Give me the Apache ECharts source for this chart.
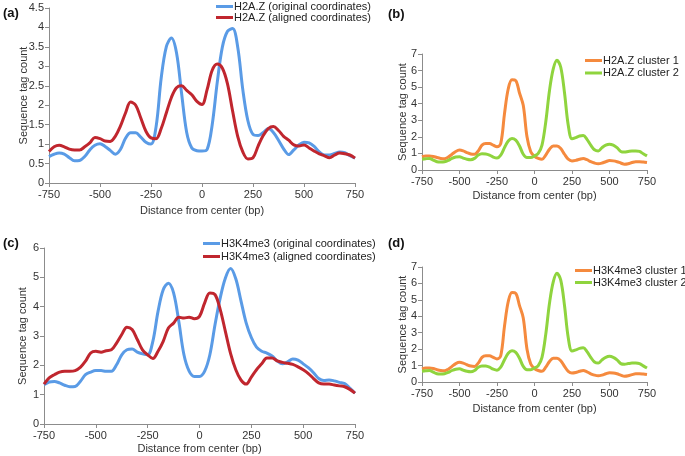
<!DOCTYPE html>
<html><head><meta charset="utf-8">
<script src="https://cdn.jsdelivr.net/npm/echarts@6/dist/echarts.min.js"></script>
<style>html,body{margin:0;padding:0;background:#fff}#c{width:685px;height:456px}</style>
</head><body><div id="c"></div>
<script>
// Distance from center (bp)
const distance = [-750,-725,-700,-675,-650,-625,-600,-575,-550,-525,-500,-475,-450,-425,-400,-375,-350,-325,-300,-275,-250,-225,-200,-175,-150,-125,-100,-75,-50,-25,0,25,50,75,100,125,150,175,200,225,250,275,300,325,350,375,400,425,450,475,500,525,550,575,600,625,650,675,700,725,750];

// (a) H2A.Z
const h2azOriginal = [0.68,0.74,0.77,0.74,0.65,0.57,0.58,0.68,0.85,0.97,1.01,0.94,0.84,0.74,0.86,1.15,1.29,1.29,1.18,1.05,1.0,1.45,2.7,3.5,3.73,3.35,2.3,1.3,0.9,0.83,0.82,0.86,1.5,2.6,3.5,3.9,3.97,3.5,2.4,1.6,1.25,1.22,1.3,1.4,1.3,1.1,0.88,0.73,0.85,0.98,1.05,1.03,0.94,0.8,0.72,0.72,0.76,0.8,0.78,0.7,0.64];
const h2azAligned = [0.81,0.93,0.97,0.93,0.87,0.85,0.85,0.93,1.03,1.17,1.14,1.08,1.07,1.2,1.46,1.8,2.08,2.0,1.67,1.33,1.16,1.14,1.4,1.8,2.2,2.45,2.5,2.38,2.27,2.1,2.02,2.4,2.9,3.06,2.95,2.55,1.85,1.2,0.8,0.62,0.65,0.95,1.22,1.4,1.45,1.35,1.2,1.1,0.98,0.95,0.98,0.9,0.82,0.75,0.7,0.65,0.72,0.77,0.75,0.72,0.64];

// (b) H2A.Z clusters
const h2azCluster1 = [0.8,0.85,0.85,0.82,0.75,0.7,0.68,0.78,0.95,1.12,1.2,1.15,1.05,0.97,0.95,1.15,1.5,1.6,1.6,1.5,1.4,1.6,3.4,4.9,5.45,5.4,4.65,3.9,2.0,1.1,0.82,0.7,0.65,0.9,1.25,1.45,1.45,1.3,0.95,0.65,0.55,0.58,0.65,0.7,0.62,0.5,0.42,0.38,0.42,0.5,0.57,0.55,0.5,0.42,0.35,0.38,0.45,0.5,0.5,0.48,0.45];
const h2azCluster2 = [0.65,0.68,0.7,0.6,0.5,0.48,0.5,0.58,0.7,0.78,0.8,0.72,0.65,0.62,0.7,0.9,0.98,0.97,0.9,0.78,0.72,0.9,1.35,1.75,1.9,1.8,1.45,0.95,0.75,0.75,0.85,1.0,1.5,2.9,4.8,6.1,6.62,6.2,4.66,2.7,1.88,1.95,2.05,2.08,1.85,1.5,1.22,1.15,1.35,1.5,1.56,1.5,1.35,1.12,1.08,1.12,1.15,1.15,1.12,0.98,0.85];

// (c) H3K4me3
const h3k4Original = [1.34,1.43,1.45,1.4,1.32,1.27,1.28,1.45,1.68,1.77,1.82,1.82,1.8,1.8,2.02,2.36,2.53,2.56,2.45,2.39,2.36,2.82,3.84,4.58,4.8,4.47,3.5,2.36,1.8,1.62,1.62,1.8,2.36,3.39,4.3,4.98,5.3,4.95,4.2,3.45,2.95,2.62,2.48,2.42,2.32,2.15,2.05,2.12,2.22,2.18,2.05,1.92,1.75,1.55,1.48,1.5,1.47,1.42,1.38,1.22,1.05];
const h3k4Aligned = [1.36,1.57,1.68,1.77,1.8,1.8,1.82,1.93,2.14,2.42,2.48,2.45,2.5,2.53,2.76,3.05,3.3,3.22,2.88,2.53,2.36,2.23,2.48,2.82,3.27,3.44,3.64,3.61,3.64,3.59,3.67,4.13,4.47,4.41,3.9,3.15,2.4,1.85,1.5,1.36,1.6,1.85,2.05,2.25,2.25,2.15,2.1,2.07,2.03,1.95,1.85,1.72,1.55,1.4,1.36,1.36,1.33,1.3,1.27,1.18,1.05];

// (d) H3K4me3 clusters
const h3k4Cluster1 = [0.8,0.85,0.85,0.82,0.75,0.7,0.68,0.78,0.95,1.12,1.2,1.15,1.05,0.97,0.95,1.15,1.5,1.6,1.6,1.5,1.4,1.6,3.4,4.9,5.45,5.4,4.65,3.9,2.0,1.1,0.82,0.7,0.65,0.9,1.25,1.45,1.45,1.3,0.95,0.65,0.55,0.58,0.65,0.7,0.62,0.5,0.42,0.38,0.42,0.5,0.57,0.55,0.5,0.42,0.35,0.38,0.45,0.5,0.5,0.48,0.45];
const h3k4Cluster2 = [0.65,0.68,0.7,0.6,0.5,0.48,0.5,0.58,0.7,0.78,0.8,0.72,0.65,0.62,0.7,0.9,0.98,0.97,0.9,0.78,0.72,0.9,1.35,1.75,1.9,1.8,1.45,0.95,0.75,0.75,0.85,1.0,1.5,2.9,4.8,6.1,6.62,6.2,4.66,2.7,1.88,1.95,2.05,2.08,1.85,1.5,1.22,1.15,1.35,1.5,1.56,1.5,1.35,1.12,1.08,1.12,1.15,1.15,1.12,0.98,0.85];

const xTicks = {min: -750, max: 750, interval: 250};
const panelLetters = ['(a)', '(b)', '(c)', '(d)'];

const FONT = '"Liberation Sans", Arial, sans-serif';
const BLUE = '#5a9be6', RED = '#c0262e', ORANGE = '#f58a3e', GREEN = '#8fd43e';
const AXIS = '#8c8c8c', TXT = '#333';

function pairs(vals) { return distance.map((d, i) => [d, vals[i]]); }

const grids = [
  {left: 49, top: 8, width: 306, height: 175},
  {left: 422, top: 54, width: 225, height: 116},
  {left: 44, top: 248, width: 311, height: 176},
  {left: 422, top: 267, width: 225, height: 115}
];
const yRanges = [[0, 4.5, 0.5], [0, 7, 1], [0, 6, 1], [0, 7, 1]];
const xNameGaps = [22, 20, 19, 21];
const yNameGaps = [20, 14, 16, 14];

const xAxes = grids.map((g, i) => ({
  type: 'value', gridIndex: i, min: xTicks.min, max: xTicks.max, interval: xTicks.interval,
  name: 'Distance from center (bp)', nameLocation: 'middle', nameGap: xNameGaps[i], nameMoveOverlap: false,
  nameTextStyle: {fontFamily: FONT, fontSize: 11, color: TXT},
  axisLine: {show: true, onZero: false, lineStyle: {color: AXIS, width: 1}},
  axisTick: {show: true, length: 4, lineStyle: {color: AXIS}},
  axisLabel: {fontFamily: FONT, fontSize: 11, color: TXT, margin: 6},
  splitLine: {show: false}
}));
const yAxes = grids.map((g, i) => ({
  type: 'value', gridIndex: i, min: yRanges[i][0], max: yRanges[i][1], interval: yRanges[i][2],
  name: 'Sequence tag count', nameLocation: 'middle', nameGap: yNameGaps[i], nameMoveOverlap: false,
  nameTextStyle: {fontFamily: FONT, fontSize: 11, color: TXT},
  axisLine: {show: true, onZero: false, lineStyle: {color: AXIS, width: 1}},
  axisTick: {show: true, length: 4, lineStyle: {color: AXIS}},
  axisLabel: {fontFamily: FONT, fontSize: 11, color: TXT, margin: 5},
  splitLine: {show: false}
}));

function line(name, vals, color, idx) {
  return {
    type: 'line', name: name, xAxisIndex: idx, yAxisIndex: idx, data: pairs(vals),
    smooth: 0.35, showSymbol: false, symbol: 'none',
    lineStyle: {color: color, width: 3}, itemStyle: {color: color}, z: color === RED || color === GREEN ? 3 : 2
  };
}

const series = [
  line('H2A.Z (original coordinates)', h2azOriginal, BLUE, 0),
  line('H2A.Z (aligned coordinates)', h2azAligned, RED, 0),
  line('H2A.Z cluster 1', h2azCluster1, ORANGE, 1),
  line('H2A.Z cluster 2', h2azCluster2, GREEN, 1),
  line('H3K4me3 (original coordinates)', h3k4Original, BLUE, 2),
  line('H3K4me3 (aligned coordinates)', h3k4Aligned, RED, 2),
  line('H3K4me3 cluster 1', h3k4Cluster1, ORANGE, 3),
  line('H3K4me3 cluster 2', h3k4Cluster2, GREEN, 3)
];

function legend(names, left, top, gap) {
  return {
    data: names, left: left, top: top, orient: 'vertical', padding: 0, itemGap: gap,
    itemWidth: 17, itemHeight: 3, icon: 'rect',
    textStyle: {fontFamily: FONT, fontSize: 11, color: '#222', lineHeight: 11, padding: [0, 0, 0, -4]},
    selectedMode: false
  };
}

const letterPos = [[3, 7], [388, 8], [3, 237], [388, 237]];

const chart = echarts.init(document.getElementById('c'), null, {renderer: 'canvas'});
chart.setOption({
  animation: false,
  backgroundColor: '#fff',
  title: panelLetters.map((t, i) => ({
    text: t, left: letterPos[i][0], top: letterPos[i][1], padding: 0,
    textStyle: {fontFamily: FONT, fontSize: 13, fontWeight: 'bold', color: '#111'}
  })),
  legend: [
    legend(['H2A.Z (original coordinates)', 'H2A.Z (aligned coordinates)'], 216, 1, 0),
    legend(['H2A.Z cluster 1', 'H2A.Z cluster 2'], 585, 55, 1.5),
    legend(['H3K4me3 (original coordinates)', 'H3K4me3 (aligned coordinates)'], 203, 238, 2),
    legend(['H3K4me3 cluster 1', 'H3K4me3 cluster 2'], 575, 265, 1)
  ],
  grid: grids,
  xAxis: xAxes,
  yAxis: yAxes,
  series: series
});
</script>
</body></html>
